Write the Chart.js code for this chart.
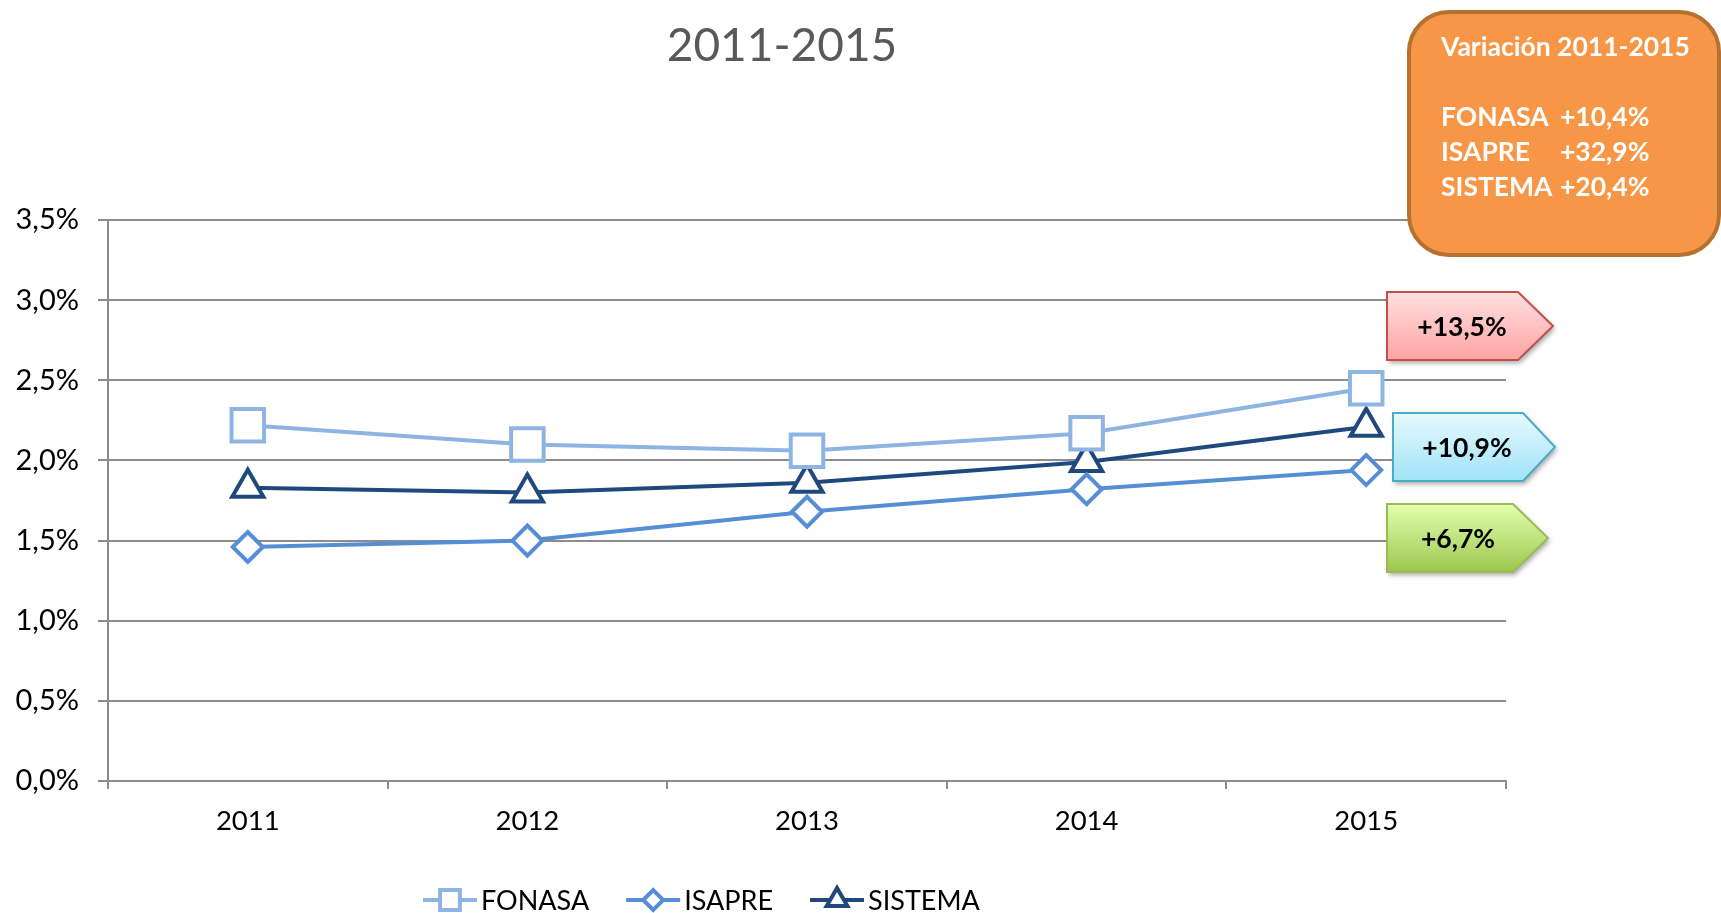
<!DOCTYPE html>
<html lang="es">
<head>
<meta charset="utf-8">
<title>2011-2015</title>
<script src="https://cdn.jsdelivr.net/npm/chart.js@4.4.1/dist/chart.umd.min.js"></script>
<style>
  html, body { margin: 0; padding: 0; background: #fff; }
  #wrap { width: 1721px; height: 913px; position: relative; }
</style>
</head>
<body>
<div id="wrap"><canvas id="tasaChart"></canvas></div>
<script>
// datos (% )
const years = ['2011', '2012', '2013', '2014', '2015'];
const fonasa = [2.22, 2.10, 2.06, 2.17, 2.45];
const isapre = [1.46, 1.50, 1.68, 1.82, 1.94];
const sistema = [1.83, 1.80, 1.86, 1.99, 2.21];

const chartTitle = '2011-2015';
const summaryTitle = 'Variación 2011-2015';
const summaryNames = ['FONASA', 'ISAPRE', 'SISTEMA'];
const summaryValues = ['+10,4%', '+32,9%', '+20,4%'];
const tagValues = ['+13,5%', '+10,9%', '+6,7%'];

const FONT = 'Lato, "Open Sans", sans-serif';
const gridColor = '#8c8c8c';

const fmtPct = v => v.toFixed(1).replace('.', ',') + '%';

// titulo, leyenda, cuadro naranjo y etiquetas
const extrasPlugin = {
  id: 'extras',
  afterDraw(chart) {
    const ctx = chart.ctx;
    ctx.save();

    // titulo
    ctx.fillStyle = '#595959';
    ctx.font = '46px ' + FONT;
    ctx.textAlign = 'center';
    ctx.textBaseline = 'middle';
    ctx.fillText(chartTitle, 782, 46);

    // leyenda
    ctx.font = '27px ' + FONT;
    ctx.textAlign = 'left';
    let x = 423;
    const ly = 900;
    chart.data.datasets.forEach(ds => {
      ctx.strokeStyle = ds.borderColor;
      ctx.lineWidth = 4;
      ctx.beginPath();
      ctx.moveTo(x, ly);
      ctx.lineTo(x + 54, ly);
      ctx.stroke();
      ctx.fillStyle = '#fff';
      Chart.helpers.drawPoint(ctx, {
        pointStyle: ds.pointStyle,
        radius: ds.legendRadius,
        rotation: 0,
        borderWidth: 4
      }, x + 27, ly);
      ctx.fillStyle = '#000';
      ctx.fillText(ds.label, x + 58, ly + 1);
      x += 58 + ctx.measureText(ds.label).width + 37;
    });

    // cuadro resumen
    const bx = 1409, by = 12, bw = 310, bh = 243, r = 40;
    ctx.beginPath();
    ctx.roundRect(bx, by, bw, bh, r);
    ctx.fillStyle = '#F79646';
    ctx.fill();
    ctx.lineWidth = 4;
    ctx.strokeStyle = '#B5712F';
    ctx.stroke();
    ctx.fillStyle = '#fff';
    ctx.font = 'bold 26.5px ' + FONT;
    ctx.fillText(summaryTitle, 1441, 47);
    const rows = [117, 152, 187];
    summaryNames.forEach((n, i) => {
      ctx.fillText(n, 1441, rows[i]);
      ctx.fillText(summaryValues[i], 1560, rows[i]);
    });

    // etiquetas flecha
    const tags = [
      { l: 1387, t: 292, b: 1518, tip: 1553, bot: 360, tx: 1462, c1: '#FFE0E0', c2: '#FFA3A3', line: '#C0504D' },
      { l: 1393, t: 413, b: 1523, tip: 1555, bot: 481, tx: 1467, c1: '#E8F9FF', c2: '#9FE3F8', line: '#4BACC6' },
      { l: 1387, t: 504, b: 1513, tip: 1548, bot: 572, tx: 1458, c1: '#E4FFAE', c2: '#9CC74E', line: '#9BBB59' }
    ];
    tags.forEach((g, i) => {
      const mid = (g.t + g.bot) / 2;
      ctx.beginPath();
      ctx.moveTo(g.l, g.t);
      ctx.lineTo(g.b, g.t);
      ctx.lineTo(g.tip, mid);
      ctx.lineTo(g.b, g.bot);
      ctx.lineTo(g.l, g.bot);
      ctx.closePath();
      const grad = ctx.createLinearGradient(0, g.t, 0, g.bot);
      grad.addColorStop(0, g.c1);
      grad.addColorStop(1, g.c2);
      ctx.save();
      ctx.shadowColor = 'rgba(0,0,0,0.35)';
      ctx.shadowBlur = 5;
      ctx.shadowOffsetX = 2;
      ctx.shadowOffsetY = 3;
      ctx.fillStyle = grad;
      ctx.fill();
      ctx.restore();
      ctx.lineWidth = 2;
      ctx.strokeStyle = g.line;
      ctx.stroke();
      ctx.fillStyle = '#000';
      ctx.textAlign = 'center';
      ctx.font = 'bold 26.5px ' + FONT;
      ctx.fillText(tagValues[i], g.tx, mid + 1);
    });

    ctx.restore();
  }
};

const tasaChart = new Chart(document.getElementById('tasaChart'), {
  type: 'line',
  data: {
    labels: years,
    datasets: [
      {
        label: 'FONASA',
        data: fonasa,
        borderColor: '#8EB4E3',
        pointStyle: 'rect',
        pointRadius: 23,
        legendRadius: 14,
        pointBorderWidth: 4,
        pointBackgroundColor: '#fff',
        borderWidth: 4,
        tension: 0
      },
      {
        label: 'ISAPRE',
        data: isapre,
        borderColor: '#558ED5',
        pointStyle: 'rectRot',
        pointRadius: 15,
        legendRadius: 10,
        pointBorderWidth: 4,
        pointBackgroundColor: '#fff',
        borderWidth: 4,
        tension: 0
      },
      {
        label: 'SISTEMA',
        data: sistema,
        borderColor: '#1F497D',
        pointStyle: 'triangle',
        pointRadius: 18,
        legendRadius: 12,
        pointBorderWidth: 4,
        pointBackgroundColor: '#fff',
        borderWidth: 4,
        tension: 0
      }
    ]
  },
  options: {
    responsive: true,
    maintainAspectRatio: false,
    animation: false,
    events: [],
    layout: {
      padding: { top: 220, right: 215, bottom: 0, left: 0 }
    },
    scales: {
      x: {
        offset: true,
        grid: {
          offset: true,
          drawOnChartArea: false,
          drawTicks: true,
          tickLength: 8,
          color: gridColor,
          lineWidth: 2
        },
        border: { display: true, color: gridColor, width: 2 },
        ticks: {
          color: '#000',
          padding: 16,
          font: { family: FONT, size: 27.5 }
        },
        afterFit: s => { s.height = 132; }
      },
      y: {
        min: 0,
        max: 3.5,
        ticks: {
          stepSize: 0.5,
          color: '#000',
          padding: 19,
          font: { family: FONT, size: 29 },
          callback: v => fmtPct(v)
        },
        grid: {
          color: gridColor,
          lineWidth: 2,
          drawTicks: true,
          tickLength: 10
        },
        border: { display: true, color: gridColor, width: 2 },
        afterFit: s => { s.width = 108; }
      }
    },
    plugins: {
      legend: { display: false },
      title: { display: false },
      tooltip: { enabled: false }
    }
  },
  plugins: [extrasPlugin]
});
</script>
</body>
</html>
